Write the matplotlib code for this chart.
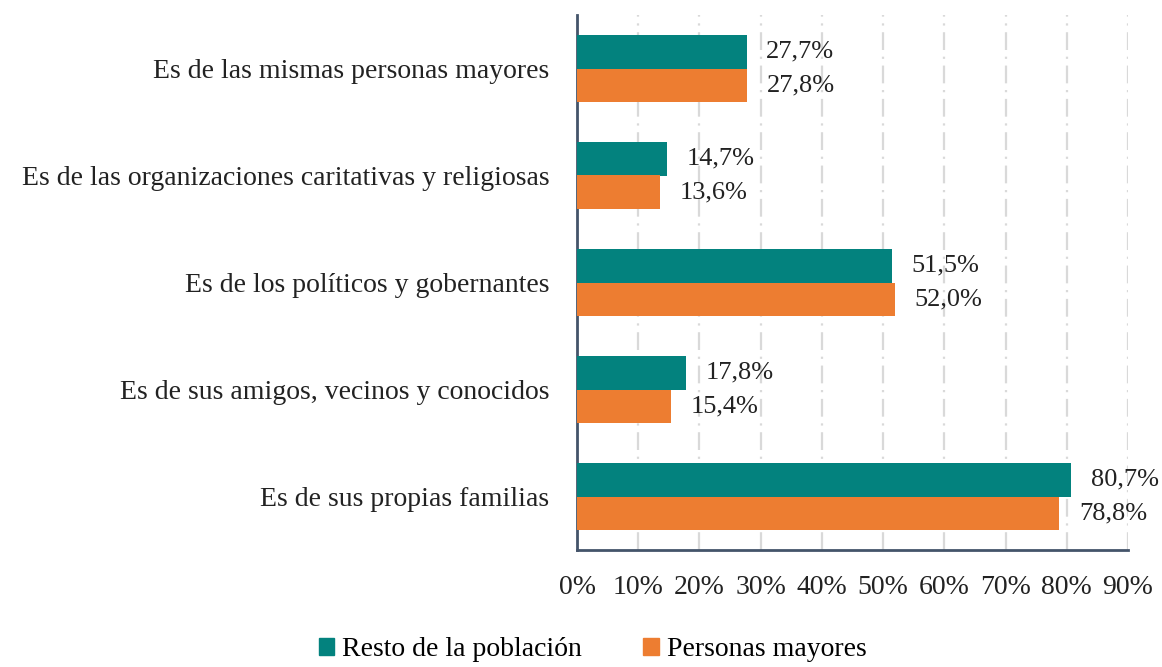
import matplotlib
matplotlib.use("Agg")
import matplotlib.pyplot as plt
import numpy as np
from matplotlib.patches import Patch

categories = [
    "Es de las mismas personas mayores",
    "Es de las organizaciones caritativas y religiosas",
    "Es de los políticos y gobernantes",
    "Es de sus amigos, vecinos y conocidos",
    "Es de sus propias familias",
]
resto = [27.7, 14.7, 51.5, 17.8, 80.7]
mayores = [27.8, 13.6, 52.0, 15.4, 78.8]
series_names = ["Resto de la población", "Personas mayores"]
xticks = [0, 10, 20, 30, 40, 50, 60, 70, 80, 90]

teal = "#03827E"
orange = "#ED7D31"
spine_col = "#44546A"

plt.rcParams['font.family'] = ['Liberation Serif', 'DejaVu Serif']

fig = plt.figure(figsize=(11.62, 6.67), dpi=100)
ax = fig.add_axes([577/1162, 1 - 550/667, (1128-577)/1162, (550-15)/667])

n = len(categories)
y = np.arange(n)[::-1].astype(float)
h = 0.31
ax.barh(y + h/2, resto, height=h, color=teal, zorder=3)
ax.barh(y - h/2, mayores, height=h, color=orange, zorder=3)

def fmt(v):
    return f"{v:.1f}%".replace(".", ",")

for yi, r, m in zip(y, resto, mayores):
    ax.annotate(fmt(r), (r, yi + h/2), xytext=(14, 0), textcoords="offset points",
                va="center", ha="left", fontsize=19, color="#222222")
    ax.annotate(fmt(m), (m, yi - h/2), xytext=(14, 0), textcoords="offset points",
                va="center", ha="left", fontsize=19, color="#222222")

ax.set_xlim(0, 90)
ax.set_ylim(-0.5, n - 0.5)
ax.set_xticks(xticks)
ax.set_xticklabels([f"{t}%" for t in xticks], fontsize=20, color="#222222")
ax.set_yticks(y)
ax.set_yticklabels(categories, fontsize=20, color="#222222")
ax.tick_params(axis="both", length=0)
ax.tick_params(axis="x", pad=18)
ax.tick_params(axis="y", pad=20)

ax.xaxis.grid(True, color="#D9D9D9", linewidth=1.6, linestyle=(0, (8, 3, 1, 3)), zorder=0)
ax.set_axisbelow(True)
for s in ["top", "right"]:
    ax.spines[s].set_visible(False)
ax.spines["left"].set_color(spine_col)
ax.spines["left"].set_linewidth(2)
ax.spines["bottom"].set_color(spine_col)
ax.spines["bottom"].set_linewidth(2)

handles = [Patch(color=teal), Patch(color=orange)]
fig.legend(handles, series_names, loc="center", bbox_to_anchor=(0.51, 1 - 650/667),
           ncol=2, frameon=False, fontsize=20, handlelength=0.55, handleheight=0.55,
           handletextpad=0.3, columnspacing=2.2)

fig.savefig("out.png", dpi=100)
